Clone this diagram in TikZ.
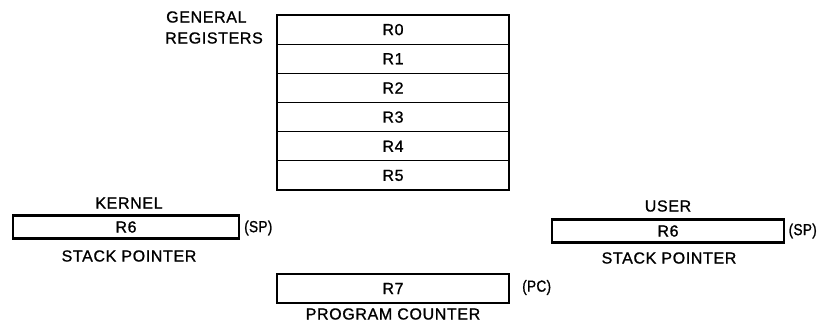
\documentclass[tikz,border=0pt]{standalone}
\usepackage{fontspec}
\setmainfont{Liberation Sans}[LetterSpace=4, FakeBold=1]
\newfontfamily\narrowfont{Liberation Sans}[LetterSpace=2, FakeBold=1, FakeStretch=0.85]
\begin{document}
\begin{tikzpicture}[x=1pt,y=-1pt,
  lbl/.style={font=\fontsize{16}{18}\selectfont, inner sep=0pt},
  plbl/.style={font=\narrowfont\fontsize{16}{18}\selectfont, inner sep=0pt},
  regbox/.style={draw, line width=2.4pt, minimum width=232pt, minimum height=29pt, inner sep=0pt, font=\fontsize{16}{18}\selectfont},
  rowline/.style={line width=1.3pt},
  spbox/.style={draw, line width=2.4pt, minimum height=23pt, inner sep=0pt, font=\fontsize{16}{18}\selectfont}]
\useasboundingbox (0,0) rectangle (817,322);
% general registers
\node[lbl, anchor=west] (gen) at (166,17) {GENERAL};
\node[lbl, anchor=west] (regs) at (165,38) {REGISTERS};
\node[draw, line width=2.4pt, minimum width=232pt, minimum height=175pt, inner sep=0pt] (gr) at (393,102.5) {};
\foreach \i in {0,...,5} {
  \node[lbl] (r\i) at (393,{15+29.1667*(\i+0.5)}) {R\i};
}
\foreach \i in {1,...,5} {
  \coordinate (la\i) at (277,{15+29.1667*\i});
  \coordinate (lb\i) at (509,{15+29.1667*\i});
  \draw[rowline] (la\i) -- (lb\i);
}
% kernel
\node[lbl] (kern) at (129,203) {KERNEL};
\node[spbox, minimum width=226pt] (ksp) at (126,227) {R6};
\node[plbl, anchor=west] (kspl) at (244,228) {(SP)};
\node[lbl] (kspn) at (129,256) {STACK POINTER};
% user
\node[lbl] (user) at (668,206) {USER};
\node[spbox, minimum width=232pt] (usp) at (668,231) {R6};
\node[plbl, anchor=east] (uspl) at (817,231) {(SP)};
\node[lbl] (uspn) at (669,258) {STACK POINTER};
% program counter
\node[regbox] (pc) at (393,288.5) {R7};
\node[plbl, anchor=west] (pcl) at (522,287.5) {(PC)};
\node[lbl] (pcn) at (393,314) {PROGRAM COUNTER};
\end{tikzpicture}
\end{document}
